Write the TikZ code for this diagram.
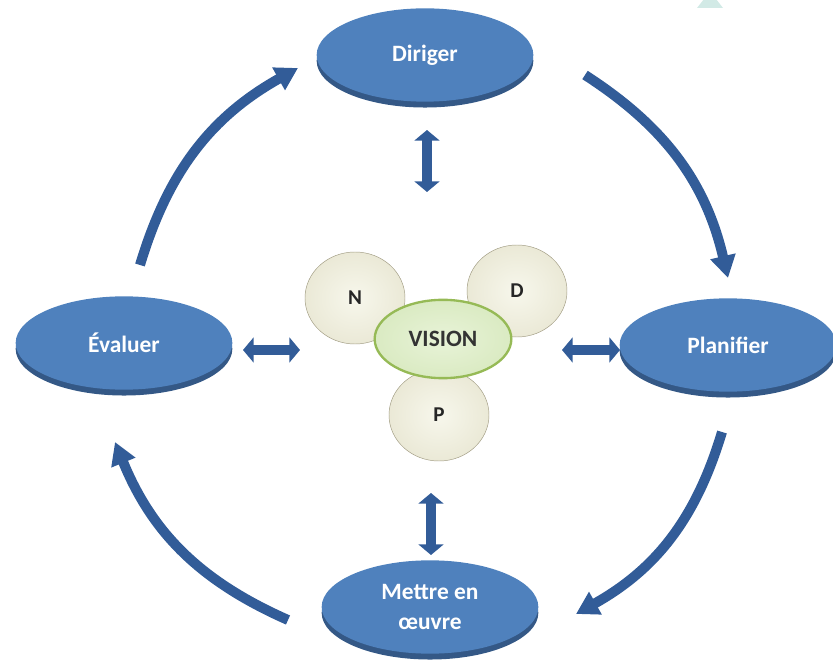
\documentclass[tikz,border=0pt]{standalone}
\usepackage{fontspec}
\setmainfont{Carlito}
\usetikzlibrary{shapes.geometric, arrows.meta, shadows}

\definecolor{blueFc}{RGB}{79,129,189}
\definecolor{blueDk}{RGB}{52,88,134}
\definecolor{arrowBl}{RGB}{50,92,152}
\definecolor{creamLt}{RGB}{247,247,236}
\definecolor{creamMd}{RGB}{232,230,210}
\definecolor{creamDk}{RGB}{186,182,156}
\definecolor{creamEd}{RGB}{160,155,130}
\definecolor{greenLt}{RGB}{232,243,216}
\definecolor{greenMd}{RGB}{214,232,188}
\definecolor{greenDk}{RGB}{190,216,150}
\definecolor{greenEd}{RGB}{150,186,86}
\definecolor{markCy}{RGB}{210,234,230}

\pgfdeclareradialshading{ballshade}{\pgfpoint{0bp}{0bp}}{color(0bp)=(creamLt); color(30bp)=(creamMd); color(44bp)=(creamDk); color(50bp)=(creamEd)}
\pgfdeclareradialshading{coreshade}{\pgfpoint{0bp}{0bp}}{color(0bp)=(greenLt); color(32bp)=(greenMd); color(50bp)=(greenDk)}

\tikzset{
  stage/.style={ellipse, fill=blueFc, minimum width=6.5cm, minimum height=2.8cm,
    text=white, align=center, font=\fontsize{20}{26}\selectfont\bfseries,
    drop shadow={shadow xshift=0pt, shadow yshift=-5pt, fill=blueDk, opacity=1}},
  letterball/.style={ellipse, minimum width=3cm, minimum height=2.76cm,
    shading=ballshade, draw=creamEd, thin,
    text=black!85, font=\fontsize{18}{20}\selectfont\bfseries},
  core/.style={ellipse, minimum width=4.1cm, minimum height=2.35cm,
    shading=coreshade, draw=greenEd, line width=2pt,
    text=black!80, font=\fontsize{20}{24}\selectfont\bfseries},
  cyclearr/.style={draw=arrowBl, line width=8.5pt, -{Triangle[length=19pt, width=21pt]}},
  linkarr/.style={draw=arrowBl, line width=9pt,
    {Triangle[length=9pt, width=21pt]}-{Triangle[length=9pt, width=21pt]}}
}

\begin{document}
\begin{tikzpicture}[x=0.03cm, y=0.03cm]
  \useasboundingbox (0,0) rectangle (833,666);
  \fill[markCy] (697,658) -- (723,658) -- (716,667) -- (704,667) -- cycle; % corner mark

  % the four stages
  \node[stage] (dir) at (425,611) {Diriger};
  \node[stage] (pla) at (728,321) {Planifier};
  \node[stage] (eva) at (124,323) {Évaluer};
  \node[stage] (met) at (430,59) {Mettre en\\œuvre};

  % centre
  \node[letterball] (n) at (355,368) {N};
  \node[letterball] (d) at (517,375) {D};
  \node[letterball] (p) at (439,251) {P};
  \node[core] (vis) at (443,327) {VISION};

  % links to the centre
  \coordinate (dirlo) at (427,536);  \coordinate (dirhi) at (427,474);
  \coordinate (metlo) at (431,173);  \coordinate (methi) at (431,111);
  \coordinate (evalo) at (243,316);  \coordinate (evahi) at (300,316);
  \coordinate (plalo) at (562,316);  \coordinate (plahi) at (620,316);
  \draw[linkarr] (dirlo) -- (dirhi);
  \draw[linkarr] (metlo) -- (methi);
  \draw[linkarr] (evalo) -- (evahi);
  \draw[linkarr] (plalo) -- (plahi);

  % the cycle
  \coordinate (c1a) at (585,591);  \coordinate (c1b) at (728,388);
  \coordinate (c2a) at (722,234);  \coordinate (c2b) at (576,52);
  \coordinate (c3a) at (288,46);   \coordinate (c3b) at (115,224);
  \coordinate (c4a) at (140,401);  \coordinate (c4b) at (298,598);
  \draw[cyclearr] (c1a) to[bend left=22] (c1b);
  \draw[cyclearr] (c2a) to[bend left=22] (c2b);
  \draw[cyclearr] (c3a) to[bend left=22] (c3b);
  \draw[cyclearr] (c4a) to[bend left=22] (c4b);
\end{tikzpicture}
\end{document}
